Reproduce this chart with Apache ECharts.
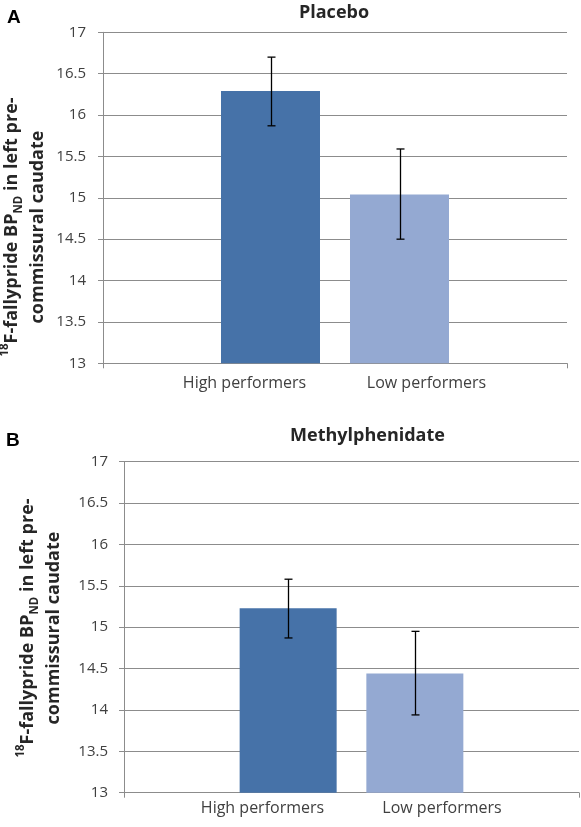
<!DOCTYPE html>
<html>
<head>
<meta charset="utf-8">
<script src="https://cdn.jsdelivr.net/npm/echarts@6/dist/echarts.min.js"></script>
<style>
html,body{margin:0;padding:0;background:#fff;}
#c{width:581px;height:827px;}
</style>
</head>
<body>
<div id="c"></div>
<script>
// ---- data ----
const categories = ['High performers', 'Low performers'];
const panelTitles = ['Placebo', 'Methylphenidate'];
const panelLetters = ['A', 'B'];
const placeboMean = [16.29, 15.04];
const placeboErrLow = [15.87, 14.50];
const placeboErrHigh = [16.70, 15.59];
const mphMean = [15.23, 14.44];
const mphErrLow = [14.87, 13.94];
const mphErrHigh = [15.58, 14.95];
const yMin = 13, yMax = 17, yStep = 0.5;

// ---- styles ----
const FONT = '"Open Sans", sans-serif';
const barColors = ['#4672A8', '#94A9D2'];
const gridColor = '#8C8C8C';
const textColor = '#404040';

const panels = [
  {mean: placeboMean, lo: placeboErrLow, hi: placeboErrHigh,
   grid: {left: 103, right: 14, top: 32.3, bottom: 463.7},
   labelGrid: {left: 153.5, width: 364}, labelMargin: 12, tickMargin: 17,
   barW: 99, gap: 30},
  {mean: mphMean, lo: mphErrLow, hi: mphErrHigh,
   grid: {left: 124, right: 2, top: 461.7, bottom: 34.3},
   labelGrid: {left: 172.75, width: 359}, labelMargin: 8, tickMargin: 16,
   barW: 97, gap: 29.7}
];

const grids = [], xAxes = [], yAxes = [], series = [];
panels.forEach((p, pi) => {
  const gMain = grids.length;
  grids.push(Object.assign({containLabel: false}, p.grid));
  grids.push({left: p.labelGrid.left, width: p.labelGrid.width, top: p.grid.top, bottom: p.grid.bottom});
  const gLab = gMain + 1;
  // main axes
  xAxes.push({type: 'category', gridIndex: gMain, data: [''],
    axisLine: {lineStyle: {color: gridColor, width: 1}},
    axisTick: {show: true, length: 5, alignWithLabel: false, lineStyle: {color: gridColor}},
    axisLabel: {show: false}});
  yAxes.push({type: 'value', gridIndex: gMain, min: yMin, max: yMax, interval: yStep,
    axisLine: {show: true, lineStyle: {color: gridColor}},
    axisTick: {show: true, length: 5, lineStyle: {color: gridColor}},
    axisLabel: {color: textColor, fontFamily: FONT, fontSize: 15, margin: p.tickMargin},
    splitLine: {show: true, lineStyle: {color: gridColor, width: 1}}});
  // label axes
  xAxes.push({type: 'category', gridIndex: gLab, data: categories,
    axisLine: {show: false}, axisTick: {show: false},
    axisLabel: {color: textColor, fontFamily: FONT, fontSize: 16, margin: p.labelMargin}});
  yAxes.push({type: 'value', gridIndex: gLab, show: false, min: 0, max: 1});
  const xMain = xAxes.length - 2, yMain = yAxes.length - 2;
  const gapPct = (p.gap / p.barW * 100) + '%';
  categories.forEach((c, ci) => {
    series.push({type: 'bar', name: c, xAxisIndex: xMain, yAxisIndex: yMain,
      data: [p.mean[ci]], barWidth: p.barW, barGap: gapPct,
      itemStyle: {color: barColors[ci]}, silent: true, animation: false});
  });
  const errData = categories.map((c, ci) => [ci, p.lo[ci], p.hi[ci]]);
  series.push({type: 'custom', xAxisIndex: xMain, yAxisIndex: yMain, data: errData,
    animation: false, silent: true, z: 10,
    renderItem: function (params, api) {
      const idx = api.value(0);
      const lo = api.coord([0, api.value(1)]);
      const hi = api.coord([0, api.value(2)]);
      const off = (idx - 0.5) * (p.barW + p.gap);
      const x = Math.round(lo[0] + off) + 0.5;
      const cap = 4;
      const st = {stroke: '#000', lineWidth: 1.3};
      return {type: 'group', children: [
        {type: 'line', shape: {x1: x, y1: hi[1], x2: x, y2: lo[1]}, style: st},
        {type: 'line', shape: {x1: x - cap, y1: hi[1], x2: x + cap, y2: hi[1]}, style: st},
        {type: 'line', shape: {x1: x - cap, y1: lo[1], x2: x + cap, y2: lo[1]}, style: st}
      ]};
    }});
});

const yTitleText = '{sup|18}{t|F-fallypride BP}{sub|ND}{t| in left pre-}\n{t|commissural caudate}';
const yTitleRich = {
  t: {fontFamily: FONT, fontWeight: 'bold', fontSize: 18, fill: '#262626', lineHeight: 26},
  sup: {fontFamily: FONT, fontWeight: 'bold', fontSize: 11.5, fill: '#262626', lineHeight: 26, verticalAlign: 'top', padding: [0,0,8,0]},
  sub: {fontFamily: FONT, fontWeight: 'bold', fontSize: 11.5, fill: '#262626', lineHeight: 26, verticalAlign: 'bottom', padding: [8,0,0,0]}
};

const option = {
  backgroundColor: '#fff',
  animation: false,
  title: [
    {text: panelTitles[0], left: 329, top: -1, textAlign: 'center',
     textStyle: {fontFamily: FONT, fontWeight: 'bold', fontSize: 18, color: '#262626'}},
    {text: panelTitles[1], left: 362.5, top: 422, textAlign: 'center',
     textStyle: {fontFamily: FONT, fontWeight: 'bold', fontSize: 18, color: '#262626'}}
  ],
  grid: grids,
  xAxis: xAxes,
  yAxis: yAxes,
  series: series,
  graphic: [
    {type: 'text', x: 7, y: 8, style: {text: panelLetters[0], font: 'bold 19px "Liberation Sans", Arial, sans-serif', fill: '#000'}},
    {type: 'text', x: 6, y: 431, style: {text: panelLetters[1], font: 'bold 19px "Liberation Sans", Arial, sans-serif', fill: '#000'}},
    {type: 'text', x: 25, y: 227, rotation: Math.PI / 2,
     style: {text: yTitleText, rich: yTitleRich, align: 'center', verticalAlign: 'middle'}},
    {type: 'text', x: 41, y: 628, rotation: Math.PI / 2,
     style: {text: yTitleText, rich: yTitleRich, align: 'center', verticalAlign: 'middle'}}
  ]
};

const chart = echarts.init(document.getElementById('c'), null, {renderer: 'canvas'});
chart.setOption(option);
</script>
</body>
</html>
